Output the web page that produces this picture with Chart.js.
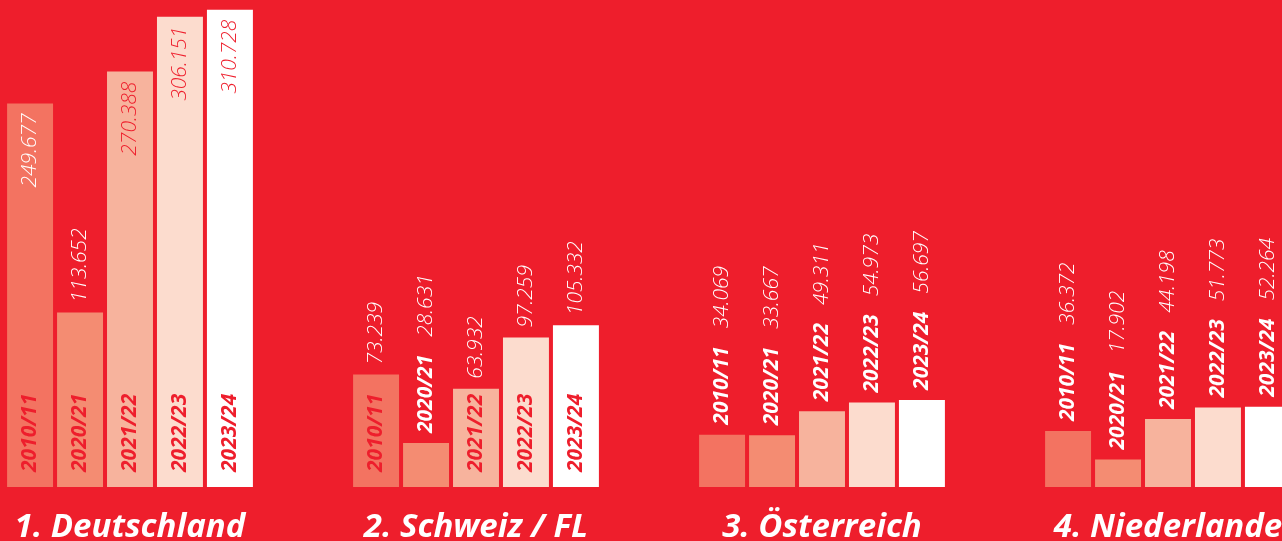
<!DOCTYPE html>
<html>
<head>
<meta charset="utf-8">
<script src="https://cdn.jsdelivr.net/npm/chart.js@4/dist/chart.umd.min.js"></script>
<style>
  html, body { margin: 0; padding: 0; background: #EE1E2C; overflow: hidden; width: 1282px; height: 541px; }
  #wrap { position: absolute; left: -43px; top: 0; width: 1384px; height: 541px; }
</style>
</head>
<body>
<div id="wrap"><canvas id="c" width="1384" height="541"></canvas></div>
<script>
const countries = ['1. Deutschland', '2. Schweiz / FL', '3. Österreich', '4. Niederlande'];
const seasons = ['2010/11', '2020/21', '2021/22', '2022/23', '2023/24'];
const v2010_11 = [249677, 73239, 34069, 36372];
const v2020_21 = [113652, 28631, 33667, 17902];
const v2021_22 = [270388, 63932, 49311, 44198];
const v2022_23 = [306151, 97259, 54973, 51773];
const v2023_24 = [310728, 105332, 56697, 52264];
const seriesValues = [v2010_11, v2020_21, v2021_22, v2022_23, v2023_24];
const barColors = ['#F37361', '#F48C72', '#F7B39D', '#FCDCCE', '#FFFFFF'];
const RED = '#EE1E2C';

function fmt(n) {
  return String(n).replace(/\B(?=(\d{3})+(?!\d))/g, '.');
}

const labelPlugin = {
  id: 'barLabels',
  afterDatasetsDraw(chart) {
    const ctx = chart.ctx;
    const yearFont = 'italic bold 21px "Open Sans"';
    const valFont = 'italic 300 21px "Open Sans"';
    chart.data.datasets.forEach((ds, i) => {
      const meta = chart.getDatasetMeta(i);
      meta.data.forEach((el, j) => {
        const x = el.x, top = el.y, base = el.base;
        const h = base - top;
        const year = ds.label;
        const val = fmt(ds.data[j]);
        ctx.save();
        ctx.textBaseline = 'middle';
        let nextStart = top - 10;
        ctx.font = yearFont;
        if (h >= 93) {
          ctx.save();
          ctx.translate(x, base - 15);
          ctx.rotate(-Math.PI / 2);
          ctx.fillStyle = RED;
          ctx.textAlign = 'left';
          ctx.fillText(year, 0, 0);
          ctx.restore();
        } else {
          const w = ctx.measureText(year).width;
          ctx.save();
          ctx.translate(x, top - 10);
          ctx.rotate(-Math.PI / 2);
          ctx.fillStyle = '#FFFFFF';
          ctx.textAlign = 'left';
          ctx.fillText(year, 0, 0);
          ctx.restore();
          nextStart = top - 10 - w - 18;
        }
        ctx.font = valFont;
        if (h > 300) {
          ctx.save();
          ctx.translate(x, top + 10);
          ctx.rotate(-Math.PI / 2);
          ctx.fillStyle = i === 0 ? '#FFFFFF' : RED;
          ctx.textAlign = 'right';
          ctx.fillText(val, 0, 0);
          ctx.restore();
        } else {
          ctx.save();
          ctx.translate(x, nextStart);
          ctx.rotate(-Math.PI / 2);
          ctx.fillStyle = '#FFFFFF';
          ctx.textAlign = 'left';
          ctx.fillText(val, 0, 0);
          ctx.restore();
        }
        ctx.restore();
      });
    });
  }
};

new Chart(document.getElementById('c'), {
  type: 'bar',
  data: {
    labels: countries,
    datasets: seasons.map((s, i) => ({
      label: s,
      data: seriesValues[i],
      backgroundColor: barColors[i],
      borderWidth: 0,
      categoryPercentage: 0.722,
      barPercentage: 0.92
    }))
  },
  options: {
    responsive: false,
    animation: false,
    events: [],
    layout: { padding: 0 },
    plugins: { legend: { display: false }, tooltip: { enabled: false } },
    scales: {
      x: {
        grid: { display: false, drawTicks: false },
        border: { display: false },
        afterFit: (s) => { s.height = 54; },
        ticks: {
          color: '#FFFFFF',
          padding: 25,
          font: { family: 'Open Sans', size: 33, weight: 'bold', style: 'italic', lineHeight: 0.97 }
        }
      },
      y: {
        display: false,
        min: 0,
        max: 317000
      }
    }
  },
  plugins: [labelPlugin]
});
</script>
</body>
</html>
